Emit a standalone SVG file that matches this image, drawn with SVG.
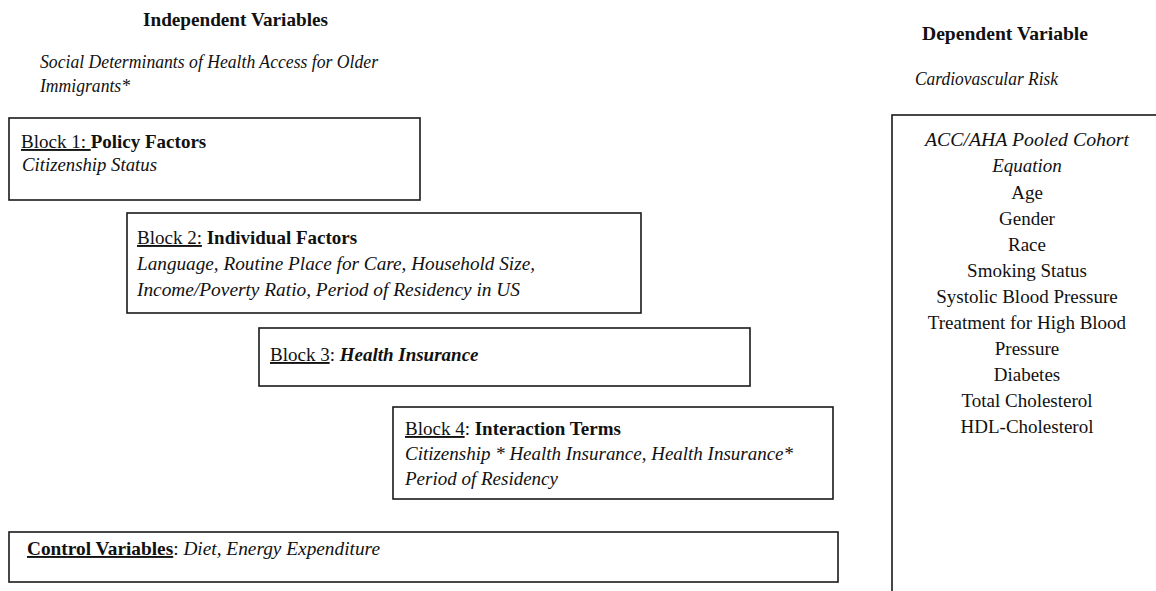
<svg xmlns="http://www.w3.org/2000/svg" width="1156" height="591" viewBox="0 0 1156 591" font-family="'Liberation Serif', 'Times New Roman', 'DejaVu Serif', serif">
<style>
text{font-family:'Liberation Serif','Times New Roman','DejaVu Serif',serif;fill:#111;font-size:19px}
.b{font-weight:bold}
.i{font-style:italic}
.u{text-decoration:underline}
.box{fill:#fff;stroke:#1a1a1a;stroke-width:1.6}
.c{text-anchor:middle}
</style>
<rect width="1156" height="591" fill="#fff"/>
<g id="headers">
<text class="b" x="143" y="26" textLength="185" lengthAdjust="spacingAndGlyphs">Independent Variables</text>
<text class="i" x="40" y="68" font-size="16" textLength="338" lengthAdjust="spacingAndGlyphs">Social Determinants of Health Access for Older</text>
<text class="i" x="40" y="92" font-size="16" textLength="90" lengthAdjust="spacingAndGlyphs">Immigrants*</text>
<text class="b" x="922" y="40" textLength="166" lengthAdjust="spacingAndGlyphs">Dependent Variable</text>
<text class="i" x="915" y="85" font-size="16" textLength="143" lengthAdjust="spacingAndGlyphs">Cardiovascular Risk</text>
</g>
<g id="block1">
<rect class="box" x="9" y="118" width="411" height="82"/>
<text x="21" y="148"><tspan class="u">Block 1: </tspan><tspan class="b">Policy Factors</tspan></text>
<text class="i" x="22" y="171" textLength="135" lengthAdjust="spacingAndGlyphs">Citizenship Status</text>
</g>
<g id="block2">
<rect class="box" x="127" y="213" width="514" height="100"/>
<text x="137" y="244"><tspan class="u">Block 2:</tspan> <tspan class="b">Individual Factors</tspan></text>
<text class="i" x="137" y="270" textLength="398" lengthAdjust="spacingAndGlyphs">Language, Routine Place for Care, Household Size,</text>
<text class="i" x="137" y="296" textLength="383" lengthAdjust="spacingAndGlyphs">Income/Poverty Ratio, Period of Residency in US</text>
</g>
<g id="block3">
<rect class="box" x="259" y="328" width="491" height="58"/>
<text x="270" y="361"><tspan class="u">Block 3</tspan>: <tspan class="b i">Health Insurance</tspan></text>
</g>
<g id="block4">
<rect class="box" x="393" y="407" width="440" height="92"/>
<text x="405" y="435"><tspan class="u">Block 4</tspan>: <tspan class="b">Interaction Terms</tspan></text>
<text class="i" x="405" y="460" textLength="388" lengthAdjust="spacingAndGlyphs">Citizenship * Health Insurance, Health Insurance*</text>
<text class="i" x="405" y="485" textLength="153" lengthAdjust="spacingAndGlyphs">Period of Residency</text>
</g>
<g id="control">
<rect class="box" x="9" y="532" width="829" height="50"/>
<text x="27" y="555" textLength="353" lengthAdjust="spacingAndGlyphs"><tspan class="u b">Control Variables</tspan>: <tspan class="i">Diet, Energy Expenditure</tspan></text>
</g>
<g id="dependent">
<rect class="box" x="892" y="115" width="300" height="500"/>
<text class="c i" x="1027" y="146" textLength="204" lengthAdjust="spacingAndGlyphs">ACC/AHA Pooled Cohort</text>
<text class="c i" x="1027" y="172">Equation</text>
<text class="c" x="1027" y="199">Age</text>
<text class="c" x="1027" y="225">Gender</text>
<text class="c" x="1027" y="251">Race</text>
<text class="c" x="1027" y="277">Smoking Status</text>
<text class="c" x="1027" y="303">Systolic Blood Pressure</text>
<text class="c" x="1027" y="329">Treatment for High Blood</text>
<text class="c" x="1027" y="355">Pressure</text>
<text class="c" x="1027" y="381">Diabetes</text>
<text class="c" x="1027" y="407">Total Cholesterol</text>
<text class="c" x="1027" y="433">HDL-Cholesterol</text>
</g>
<g id="connectors"></g>
</svg>
